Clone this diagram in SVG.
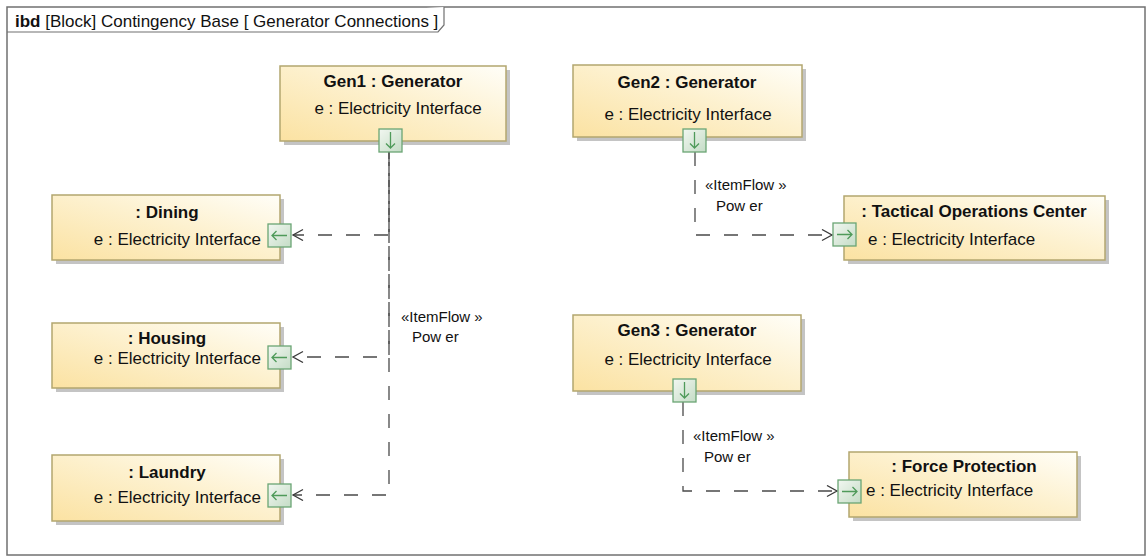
<svg xmlns="http://www.w3.org/2000/svg" width="1147" height="560" viewBox="0 0 1147 560">
<style>
.frame{fill:#fff;stroke:#707070;stroke-width:1.5}
.tab{fill:#fff;stroke:#707070;stroke-width:1.2}
.box{fill:url(#nodeGrad);stroke:#b3a66f;stroke-width:1.5}
.shadow{fill:#c4c4c4}
.port{fill:url(#portGrad);stroke:#6aa574;stroke-width:1.3}
.parrow{fill:none;stroke:#4f9a5a;stroke-width:1.3}
.t{font-family:"Liberation Sans",Arial,sans-serif;fill:#111}
.nt{font-size:17px;font-weight:bold;text-anchor:middle}
.pt{font-size:17px}
.lab{font-size:15px}
.conn{fill:none;stroke:#4a4a4a;stroke-width:1.3;stroke-dasharray:14 14}
</style>
<defs>
<linearGradient id="nodeGrad" x1="0" y1="1" x2="1" y2="0">
<stop offset="0" stop-color="#fbe2a2"/>
<stop offset="0.55" stop-color="#fdf1cf"/>
<stop offset="1" stop-color="#fffef8"/>
</linearGradient>
<linearGradient id="portGrad" x1="0" y1="0" x2="1" y2="1">
<stop offset="0" stop-color="#f2f7f1"/>
<stop offset="1" stop-color="#c4dcc6"/>
</linearGradient>
<marker id="open" markerUnits="userSpaceOnUse" markerWidth="14" markerHeight="14" refX="11" refY="6" orient="auto">
<path d="M1,0.5 L11,6 L1,11.5" fill="none" stroke="#3a3a3a" stroke-width="1.3"/>
</marker>
</defs>

<g id="frame">
<rect class="frame" x="7" y="7" width="1138" height="548"/>
<path class="tab" d="M7,32 L438,32 L444,25 L444,7"/>
<text class="t" x="15" y="27" font-size="17px"><tspan font-weight="bold">ibd</tspan> [Block] Contingency Base [ Generator Connections ]</text>
</g>

<g id="connectors">
<path class="conn" d="M389,152 V235 H293" marker-end="url(#open)"/>
<path class="conn" style="stroke-dashoffset:7" d="M389,152 V357 H293" marker-end="url(#open)"/>
<path class="conn" style="stroke-dashoffset:18" d="M389,152 V495 H293" marker-end="url(#open)"/>
<path class="conn" d="M695,152 V235 H832" marker-end="url(#open)"/>
<path class="conn" d="M683,402 V491 H837" marker-end="url(#open)"/>
<text class="t lab" x="401" y="322">«ItemFlow »</text>
<text class="t lab" x="412" y="342">Pow er</text>
<text class="t lab" x="705" y="190">«ItemFlow »</text>
<text class="t lab" x="716" y="211">Pow er</text>
<text class="t lab" x="693" y="441">«ItemFlow »</text>
<text class="t lab" x="704" y="462">Pow er</text>
</g>

<g id="gen1">
<rect class="shadow" x="284" y="70" width="226" height="75"/>
<rect class="box" x="280" y="66" width="226" height="75"/>
<text class="t nt" x="393" y="87">Gen1 : Generator</text>
<text class="t pt" x="398" y="114" text-anchor="middle">e : Electricity Interface</text>
<rect class="port" x="379" y="129" width="23" height="23"/>
<path class="parrow" d="M390.5,132 V148 M386,143.5 L390.5,148 L395,143.5"/>
</g>

<g id="gen2">
<rect class="shadow" x="577" y="69" width="229" height="72"/>
<rect class="box" x="573" y="65" width="229" height="72"/>
<text class="t nt" x="687" y="88">Gen2 : Generator</text>
<text class="t pt" x="688" y="120" text-anchor="middle">e : Electricity Interface</text>
<rect class="port" x="683" y="129" width="23" height="23"/>
<path class="parrow" d="M694.5,132 V148 M690,143.5 L694.5,148 L699,143.5"/>
</g>

<g id="gen3">
<rect class="shadow" x="577" y="319" width="228" height="76"/>
<rect class="box" x="573" y="315" width="228" height="76"/>
<text class="t nt" x="687" y="336">Gen3 : Generator</text>
<text class="t pt" x="688" y="365" text-anchor="middle">e : Electricity Interface</text>
<rect class="port" x="673" y="379" width="23" height="23"/>
<path class="parrow" d="M684.5,382 V398 M680,393.5 L684.5,398 L689,393.5"/>
</g>

<g id="dining">
<rect class="shadow" x="56" y="199" width="228" height="65"/>
<rect class="box" x="52" y="195" width="228" height="65"/>
<text class="t nt" x="167" y="218">: Dining</text>
<text class="t pt" x="261" y="245" text-anchor="end">e : Electricity Interface</text>
<rect class="port" x="268" y="224" width="23" height="23"/>
<path class="parrow" d="M287,235.5 H272 M276.5,231 L272,235.5 L276.5,240"/>
</g>

<g id="housing">
<rect class="shadow" x="56" y="327" width="228" height="65"/>
<rect class="box" x="52" y="323" width="228" height="65"/>
<text class="t nt" x="167" y="344">: Housing</text>
<text class="t pt" x="261" y="364" text-anchor="end">e : Electricity Interface</text>
<rect class="port" x="268" y="346" width="23" height="23"/>
<path class="parrow" d="M287,357.5 H272 M276.5,353 L272,357.5 L276.5,362"/>
</g>

<g id="laundry">
<rect class="shadow" x="56" y="459" width="228" height="66"/>
<rect class="box" x="52" y="455" width="228" height="66"/>
<text class="t nt" x="167" y="478">: Laundry</text>
<text class="t pt" x="261" y="503" text-anchor="end">e : Electricity Interface</text>
<rect class="port" x="268" y="484" width="23" height="23"/>
<path class="parrow" d="M287,495.5 H272 M276.5,491 L272,495.5 L276.5,500"/>
</g>

<g id="toc">
<rect class="shadow" x="848" y="200" width="261" height="64"/>
<rect class="box" x="844" y="196" width="261" height="64"/>
<text class="t nt" x="974" y="217">: Tactical Operations Center</text>
<text class="t pt" x="868" y="245">e : Electricity Interface</text>
<rect class="port" x="833" y="223" width="23" height="23"/>
<path class="parrow" d="M837,234.5 H852 M847.5,230 L852,234.5 L847.5,239"/>
</g>

<g id="forceprotection">
<rect class="shadow" x="853" y="456" width="228" height="65"/>
<rect class="box" x="849" y="452" width="228" height="65"/>
<text class="t nt" x="964" y="472">: Force Protection</text>
<text class="t pt" x="866" y="496">e : Electricity Interface</text>
<rect class="port" x="838" y="480" width="23" height="23"/>
<path class="parrow" d="M842,491.5 H857 M852.5,487 L857,491.5 L852.5,496"/>
</g>
</svg>
